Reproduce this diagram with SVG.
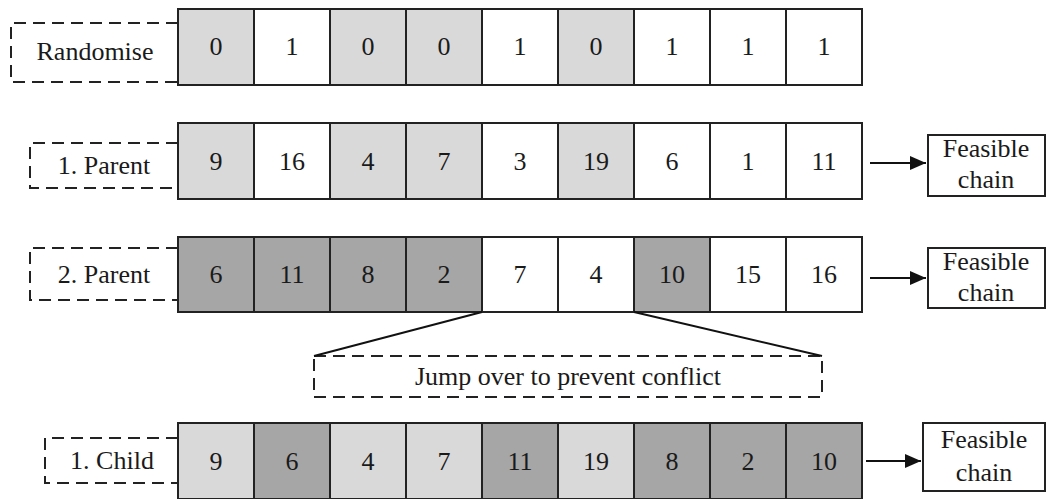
<svg xmlns="http://www.w3.org/2000/svg" width="1048" height="499" viewBox="0 0 1048 499" font-family="'Liberation Serif', 'Times New Roman', serif">
  <defs>
    <style>
      .cell { stroke: #222; stroke-width: 2; }
      .w { fill: #ffffff; }
      .l { fill: #d9d9d9; }
      .d { fill: #a6a6a6; }
      .dash { fill: none; stroke: #222; stroke-width: 2; stroke-dasharray: 12 7; }
      .box { fill: #ffffff; stroke: #222; stroke-width: 2; }
      .line { fill: none; stroke: #111; stroke-width: 2; }
      text { font-family: 'Liberation Serif', 'Times New Roman', serif; font-size: 26px; fill: #1a1a1a; text-anchor: middle; }
    </style>
    <marker id="ah" viewBox="0 0 16 14" refX="16" refY="7" markerWidth="16" markerHeight="14" markerUnits="userSpaceOnUse" orient="auto">
      <path d="M0,0 L16,7 L0,14 z" fill="#111"/>
    </marker>
  </defs>
  <rect width="1048" height="499" fill="#ffffff"/>

  <!-- Row 1: randomised mask -->
  <g id="randomise">
    <path class="dash" d="M178,23 H11 V82 H178"/>
    <text x="95" y="60">Randomise</text>
  </g>
  <g id="mask">
    <rect class="cell l" x="178" y="9" width="76" height="76"/>
    <rect class="cell w" x="254" y="9" width="76" height="76"/>
    <rect class="cell l" x="330" y="9" width="76" height="76"/>
    <rect class="cell l" x="406" y="9" width="76" height="76"/>
    <rect class="cell w" x="482" y="9" width="76" height="76"/>
    <rect class="cell l" x="558" y="9" width="76" height="76"/>
    <rect class="cell w" x="634" y="9" width="76" height="76"/>
    <rect class="cell w" x="710" y="9" width="76" height="76"/>
    <rect class="cell w" x="786" y="9" width="76" height="76"/>
    <text x="216" y="55">0</text>
    <text x="292" y="55">1</text>
    <text x="368" y="55">0</text>
    <text x="444" y="55">0</text>
    <text x="520" y="55">1</text>
    <text x="596" y="55">0</text>
    <text x="672" y="55">1</text>
    <text x="748" y="55">1</text>
    <text x="824" y="55">1</text>
  </g>

  <!-- Row 2: first parent -->
  <g id="parent1-label">
    <path class="dash" d="M178,143 H30 V188 H178"/>
    <text x="104" y="174">1. Parent</text>
  </g>
  <g id="parent1">
    <rect class="cell l" x="178" y="123" width="76" height="76"/>
    <rect class="cell w" x="254" y="123" width="76" height="76"/>
    <rect class="cell l" x="330" y="123" width="76" height="76"/>
    <rect class="cell l" x="406" y="123" width="76" height="76"/>
    <rect class="cell w" x="482" y="123" width="76" height="76"/>
    <rect class="cell l" x="558" y="123" width="76" height="76"/>
    <rect class="cell w" x="634" y="123" width="76" height="76"/>
    <rect class="cell w" x="710" y="123" width="76" height="76"/>
    <rect class="cell w" x="786" y="123" width="76" height="76"/>
    <text x="216" y="170">9</text>
    <text x="292" y="170">16</text>
    <text x="368" y="170">4</text>
    <text x="444" y="170">7</text>
    <text x="520" y="170">3</text>
    <text x="596" y="170">19</text>
    <text x="672" y="170">6</text>
    <text x="748" y="170">1</text>
    <text x="824" y="170">11</text>
  </g>
  <g id="feasible1">
    <rect class="box" x="928" y="135" width="117" height="61"/>
    <text x="986" y="157">Feasible</text>
    <text x="986" y="188">chain</text>
  </g>

  <!-- Row 3: second parent -->
  <g id="parent2-label">
    <path class="dash" d="M178,248 H30 V300 H178"/>
    <text x="104" y="283">2. Parent</text>
  </g>
  <g id="parent2">
    <rect class="cell d" x="178" y="237" width="76" height="75"/>
    <rect class="cell d" x="254" y="237" width="76" height="75"/>
    <rect class="cell d" x="330" y="237" width="76" height="75"/>
    <rect class="cell d" x="406" y="237" width="76" height="75"/>
    <rect class="cell w" x="482" y="237" width="76" height="75"/>
    <rect class="cell w" x="558" y="237" width="76" height="75"/>
    <rect class="cell d" x="634" y="237" width="76" height="75"/>
    <rect class="cell w" x="710" y="237" width="76" height="75"/>
    <rect class="cell w" x="786" y="237" width="76" height="75"/>
    <text x="216" y="283">6</text>
    <text x="292" y="283">11</text>
    <text x="368" y="283">8</text>
    <text x="444" y="283">2</text>
    <text x="520" y="283">7</text>
    <text x="596" y="283">4</text>
    <text x="672" y="283">10</text>
    <text x="748" y="283">15</text>
    <text x="824" y="283">16</text>
  </g>
  <g id="feasible2">
    <rect class="box" x="928" y="248" width="117" height="60"/>
    <text x="986" y="270">Feasible</text>
    <text x="986" y="301">chain</text>
  </g>

  <!-- Callout -->
  <g id="jump">
    <rect class="dash" x="314" y="356" width="508" height="41"/>
    <text x="568" y="385">Jump over to prevent conflict</text>
  </g>

  <!-- Row 4: child -->
  <g id="child-label">
    <path class="dash" d="M178,438 H45 V483 H178"/>
    <text x="112" y="469">1. Child</text>
  </g>
  <g id="child">
    <rect class="cell l" x="178" y="423" width="76" height="76"/>
    <rect class="cell d" x="254" y="423" width="76" height="76"/>
    <rect class="cell l" x="330" y="423" width="76" height="76"/>
    <rect class="cell l" x="406" y="423" width="76" height="76"/>
    <rect class="cell d" x="482" y="423" width="76" height="76"/>
    <rect class="cell l" x="558" y="423" width="76" height="76"/>
    <rect class="cell d" x="634" y="423" width="76" height="76"/>
    <rect class="cell d" x="710" y="423" width="76" height="76"/>
    <rect class="cell d" x="786" y="423" width="76" height="76"/>
    <text x="216" y="470">9</text>
    <text x="292" y="470">6</text>
    <text x="368" y="470">4</text>
    <text x="444" y="470">7</text>
    <text x="520" y="470">11</text>
    <text x="596" y="470">19</text>
    <text x="672" y="470">8</text>
    <text x="748" y="470">2</text>
    <text x="824" y="470">10</text>
  </g>
  <g id="feasible3">
    <rect class="box" x="923" y="423" width="122" height="68"/>
    <text x="984" y="448">Feasible</text>
    <text x="984" y="481">chain</text>
  </g>

  <!-- Connectors -->
  <g id="connectors">
    <line class="line" x1="870" y1="163" x2="926" y2="163" marker-end="url(#ah)"/>
    <line class="line" x1="870" y1="278" x2="926" y2="278" marker-end="url(#ah)"/>
    <line class="line" x1="866" y1="461" x2="921" y2="461" marker-end="url(#ah)"/>
    <line class="line" x1="482" y1="312" x2="314" y2="356"/>
    <line class="line" x1="634" y1="312" x2="822" y2="356"/>
  </g>
</svg>
